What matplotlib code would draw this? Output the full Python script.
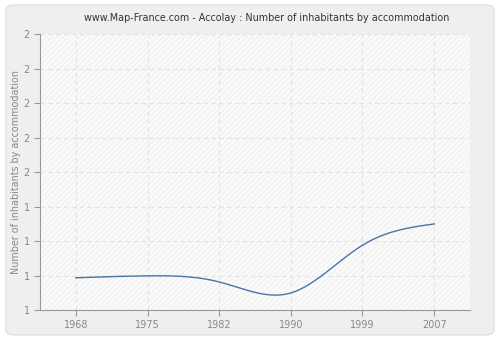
import matplotlib
matplotlib.use("Agg")
import matplotlib.pyplot as plt
import numpy as np
from matplotlib.patches import FancyBboxPatch, Rectangle

# data
years = ["1968", "1975", "1982", "1990", "1999", "2007"]
values = [1.117, 1.124, 1.102, 1.062, 1.235, 1.312]
y_ticks = [1.0, 1.125, 1.25, 1.375, 1.5, 1.625, 1.75, 1.875, 2.0]
y_labels = ["1", "1", "1", "1", "2", "2", "2", "2", "2"]


def natural_spline(x, y, n=300):
    # natural cubic spline, just for drawing the smooth curve
    x = np.asarray(x, float)
    y = np.asarray(y, float)
    k = len(x)
    h = np.diff(x)
    A = np.zeros((k, k))
    b = np.zeros(k)
    A[0, 0] = A[-1, -1] = 1
    for i in range(1, k - 1):
        A[i, i - 1] = h[i - 1]
        A[i, i] = 2 * (h[i - 1] + h[i])
        A[i, i + 1] = h[i]
        b[i] = 3 * ((y[i + 1] - y[i]) / h[i] - (y[i] - y[i - 1]) / h[i - 1])
    c = np.linalg.solve(A, b)
    xs = np.linspace(x[0], x[-1], n)
    ys = np.empty_like(xs)
    for j, xv in enumerate(xs):
        i = min(np.searchsorted(x, xv, side="right") - 1, k - 2)
        d = xv - x[i]
        bb = (y[i + 1] - y[i]) / h[i] - h[i] * (2 * c[i] + c[i + 1]) / 3
        dd = (c[i + 1] - c[i]) / (3 * h[i])
        ys[j] = y[i] + bb * d + c[i] * d ** 2 + dd * d ** 3
    return xs, ys


plt.rcParams["hatch.color"] = "#ececec"
plt.rcParams["hatch.linewidth"] = 0.5

fig = plt.figure(figsize=(5, 3.4), dpi=100)
fig.patch.set_facecolor("white")
fig.patches.append(FancyBboxPatch((0.012, 0.015), 0.976, 0.97, boxstyle="round,pad=0,rounding_size=0.015",
                                  transform=fig.transFigure, facecolor="#efefef",
                                  edgecolor="#e2e2e2", linewidth=1, zorder=-5))

ax = fig.add_axes([0.08, 0.088, 0.86, 0.812])
ax.set_facecolor("#fafafa")
ax.add_patch(Rectangle((0, 0), 1, 1, transform=ax.transAxes, facecolor="none",
                       edgecolor="#ececec", hatch="//////", linewidth=0, zorder=0))

xpos = np.arange(len(years))
xs, ys = natural_spline(xpos, values)
ax.plot(xs, ys, color="#4a73a8", linewidth=1, zorder=3)

ax.set_xlim(-0.5, len(years) - 0.5)
ax.set_ylim(1.0, 2.0)
ax.set_xticks(xpos)
ax.set_xticklabels(years)
ax.set_yticks(y_ticks)
ax.set_yticklabels(y_labels)
ax.grid(True, color="#e3e3e3", linestyle=(0, (4, 3)), linewidth=0.8)
ax.set_axisbelow(True)

for s in ["top", "right"]:
    ax.spines[s].set_visible(False)
for s in ["left", "bottom"]:
    ax.spines[s].set_color("#999999")
ax.tick_params(colors="#999999", labelcolor="#888888", labelsize=7, length=4)

ax.set_ylabel("Number of inhabitants by accommodation", color="#888888", fontsize=6.9, labelpad=2)
fig.text(0.534, 0.948, "www.Map-France.com - Accolay : Number of inhabitants by accommodation",
         ha="center", va="center", fontsize=6.9, color="#333333")

fig.savefig("out.png", dpi=100, facecolor=fig.get_facecolor())
